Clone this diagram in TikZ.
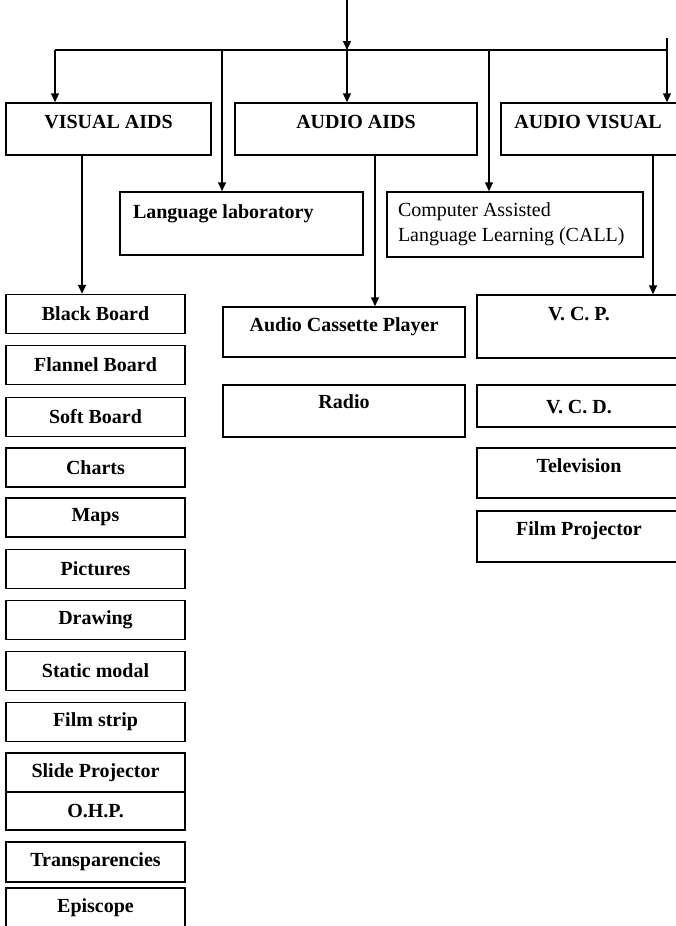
\documentclass[tikz,border=0pt]{standalone}
\usepackage{fontspec}
\setmainfont{Liberation Serif}
\usetikzlibrary{calc,positioning,arrows.meta}

\begin{document}
\begin{tikzpicture}[>={Triangle[length=9pt,width=8pt]},x=1pt,y=-1pt,line width=1.5pt,font={\bfseries\fontsize{20}{24}\selectfont},
  box/.style={draw,inner sep=0pt,minimum height=39pt},aidbox/.style={box,minimum width=179pt},
  toplbl/.style={anchor=north,inner sep=0pt}]
\useasboundingbox (0,0) rectangle (675,926);

% main heads
\node[box,minimum width=205pt,minimum height=52pt,label={[toplbl,yshift=-12pt]north:VISUAL AIDS}] (visual) at (108.5,129) {};
\node[box,minimum width=242pt,minimum height=52pt,label={[toplbl,yshift=-12pt]north:AUDIO AIDS}] (audio) at (356,129) {};
\node[box,minimum width=180pt,minimum height=52pt,label={[toplbl,yshift=-12pt,xshift=-3pt]north:AUDIO VISUAL}] (av) at (591,129) {};

% second row
\node[box,minimum width=243pt,minimum height=63pt,label={[toplbl,anchor=north west,xshift=13pt,yshift=-13pt]north west:Language laboratory}] (lab) at (241.5,223.5) {};
\node[box,minimum width=256pt,minimum height=65pt,label={[toplbl,anchor=north west,align=left,font={\mdseries\fontsize{20}{25}\selectfont},xshift=11pt,yshift=-11pt]north west:Computer Assisted\\Language Learning (CALL)}] (call) at (515,224.5) {};

% visual aids
\node[aidbox] (bb) at (95.5,314) {Black Board};
\node[aidbox] (fb) at (95.5,365) {Flannel Board};
\node[aidbox] (sb) at (95.5,417) {Soft Board};
\node[aidbox] (charts) at (95.5,467.5) {Charts};
\node[aidbox] (maps) at (95.5,517.5) {Maps};
\node[aidbox] (pict) at (95.5,569) {Pictures};
\node[aidbox] (drawing) at (95.5,620) {Drawing};
\node[aidbox] (static) at (95.5,671) {Static modal};
\node[aidbox] (film) at (95.5,722) {Film strip};
\node[aidbox] (slide) at (95.5,772.5) {Slide Projector};
\node[aidbox,minimum height=38pt] (ohp) at (95.5,811) {O.H.P.};
\node[aidbox,minimum height=40pt] (transp) at (95.5,862) {Transparencies};
\node[aidbox,minimum height=40pt] (episc) at (95.5,908) {Episcope};

% audio aids
\node[box,minimum width=242pt,minimum height=50pt,label={[toplbl,yshift=-11pt]north:Audio Cassette Player}] (acp) at (344,332) {};
\node[box,minimum width=242pt,minimum height=52pt,label={[toplbl,yshift=-10pt]north:Radio}] (radio) at (344,411) {};

% audio visual
\node[box,minimum width=204pt,minimum height=63pt,label={[toplbl,yshift=-12pt]north:V. C. P.}] (vcp) at (579,326.5) {};
\node[box,minimum width=204pt,minimum height=42pt,label={[toplbl,yshift=-15pt]north:V. C. D.}] (vcd) at (579,406) {};
\node[box,minimum width=204pt,minimum height=50pt,label={[toplbl,yshift=-11pt]north:Television}] (tv) at (579,473) {};
\node[box,minimum width=204pt,minimum height=51pt,label={[toplbl,yshift=-11pt]north:Film Projector}] (fp) at (579,536.5) {};

%%%%%
\coordinate (in) at (347,0);
\coordinate (bus) at (347,50);
\coordinate (busL) at (55,50);
\coordinate (busR) at (667,50);
\coordinate (busLab) at (222,50);
\coordinate (busCall) at (489,50);
\coordinate (stub) at (667,38);

\draw[->] (in) -- (bus);
\draw (busL) -- (busR);
\draw (stub) -- (busR);
\draw[->] (busL) -- (busL |- visual.north);
\draw[->] (bus) -- (bus |- audio.north);
\draw[->] (busR) -- (busR |- av.north);
\draw[->] (busLab) -- (busLab |- lab.north);
\draw[->] (busCall) -- (busCall |- call.north);

%%%%%
\coordinate (dv) at ([xshift=-26.5pt]visual.south);
\coordinate (da) at ([xshift=19pt]audio.south);
\coordinate (dav) at ([xshift=62pt]av.south);
\draw[->] (dv) -- (dv |- bb.north);
\draw[->] (da) -- (da |- acp.north);
\draw[->] (dav) -- (dav |- vcp.north);

\end{tikzpicture}
\end{document}
